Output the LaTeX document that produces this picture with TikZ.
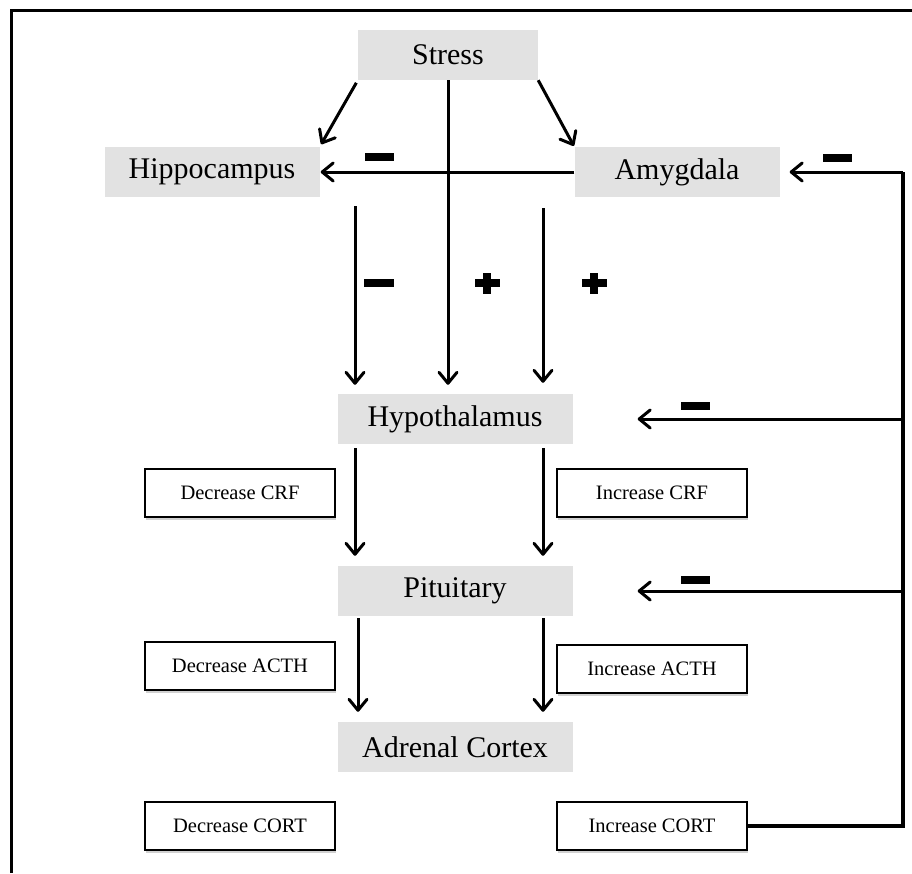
\documentclass[tikz,border=0pt]{standalone}
\usepackage{fontspec}
\setmainfont{Liberation Serif}
\usetikzlibrary{arrows.meta,shadows}
\definecolor{boxgray}{RGB}{226,226,226}
\begin{document}
\begin{tikzpicture}[x=1pt,y=-1pt,
  bigbox/.style={fill=boxgray, inner sep=0pt, minimum height=50pt, font={\fontsize{30}{36}\selectfont}},
  smallbox/.style={draw=black, line width=1.3pt, fill=white, inner sep=0pt, minimum width=190pt, minimum height=48pt,
     drop shadow={shadow xshift=1pt, shadow yshift=-2.5pt, opacity=0.3, fill=black!60},
     font={\fontsize{20.5}{24}\selectfont}},
  arr/.style={line width=3pt, -{Straight Barb[length=11pt,width=18pt,line width=3pt,round]}},
  fb/.style={line width=3.2pt},
  signnode/.style={inner sep=0pt, outer sep=0pt}
]
\useasboundingbox (0,0) rectangle (912,873);
% frame
\draw[line width=3pt] (11,873) -- (11,10) -- (912,10);

% main nodes
\node[bigbox, minimum width=180pt] (stress) at (448,55) {Stress};
\node[bigbox, minimum width=215pt] (hip) at (212,172) {Hippocampus};
\node[bigbox, minimum width=205pt] (amy) at (677,172) {Amygdala};
\node[bigbox, minimum width=235pt] (hyp) at (455,419) {Hypothalamus};
\node[bigbox, minimum width=235pt] (pit) at (455,591) {Pituitary};
\node[bigbox, minimum width=235pt] (adr) at (455,747) {Adrenal Cortex};

% side boxes
\node[smallbox] (dcrf) at (240,493) {Decrease CRF};
\node[smallbox] (icrf) at (652,493) {Increase CRF};
\node[smallbox] (dacth) at (240,666) {Decrease ACTH};
\node[smallbox] (iacth) at (652,669) {Increase ACTH};
\node[smallbox] (dcort) at (240,826) {Decrease CORT};
\node[smallbox] (icort) at (652,826) {Increase CORT};

% coordinates for vertical arrows
\coordinate (cL) at (355,0);
\coordinate (cR) at (543,0);
\coordinate (cL2) at (358,0);
\coordinate (rt) at (903,0);

% stress arrows
\draw[arr, shorten <=3pt, shorten >=3pt] (stress.south west) -- (hip.north east);
\draw[arr, shorten >=1pt] (stress.south east) -- (amy.north west);
\draw[arr, shorten >=9pt] (stress.south) -- (stress.south |- hyp.north);
\draw[arr, shorten >=1pt] (amy.west) -- (hip.east);
\draw[arr, shorten <=9pt, shorten >=9pt] (cL |- hip.south) -- (cL |- hyp.north);
\draw[arr, shorten <=11pt, shorten >=11pt] (cR |- amy.south) -- (cR |- hyp.north);

% hypothalamus -> pituitary
\draw[arr, shorten <=4pt, shorten >=10pt] (cL |- hyp.south) -- (cL |- pit.north);
\draw[arr, shorten <=4pt, shorten >=10pt] (cR |- hyp.south) -- (cR |- pit.north);
% pituitary -> adrenal
\draw[arr, shorten <=2pt, shorten >=10pt] (cL2 |- pit.south) -- (cL2 |- adr.north);
\draw[arr, shorten <=2pt, shorten >=10pt] (cR |- pit.south) -- (cR |- adr.north);

% feedback loop
\coordinate (fbBot) at (rt |- icort.east);
\coordinate (fbTop) at (rt |- amy.east);
\coordinate (fbHyp) at (rt |- hyp.east);
\coordinate (fbPit) at (rt |- pit.east);
\draw[fb, line join=miter] (icort.east) -- (fbBot) -- (fbTop);
\draw[arr, shorten >=10pt] (fbTop) -- (amy.east);
\draw[arr, shorten >=65pt] (fbHyp) -- (hyp.east);
\draw[arr, shorten >=65pt] (fbPit) -- (pit.east);

% signs
\node[signnode] (m1) at (379,157) {\rule[-4pt]{29pt}{8pt}};
\node[signnode] (m2) at (379,283) {\rule[-4pt]{30pt}{8pt}};
\node[signnode] (m3) at (837,158) {\rule[-4pt]{29pt}{8pt}};
\node[signnode] (m4) at (695,406) {\rule[-4pt]{29pt}{8pt}};
\node[signnode] (m5) at (695,580) {\rule[-4pt]{29pt}{8pt}};
\node[signnode] (p1) at (483,283) {\rule[-4pt]{25pt}{8pt}\hspace{-16.5pt}\rule[-10.5pt]{8pt}{21pt}\hspace{8.5pt}};
\node[signnode] (p2) at (590,283) {\rule[-4pt]{25pt}{8pt}\hspace{-16.5pt}\rule[-10.5pt]{8pt}{21pt}\hspace{8.5pt}};
\end{tikzpicture}
\end{document}
